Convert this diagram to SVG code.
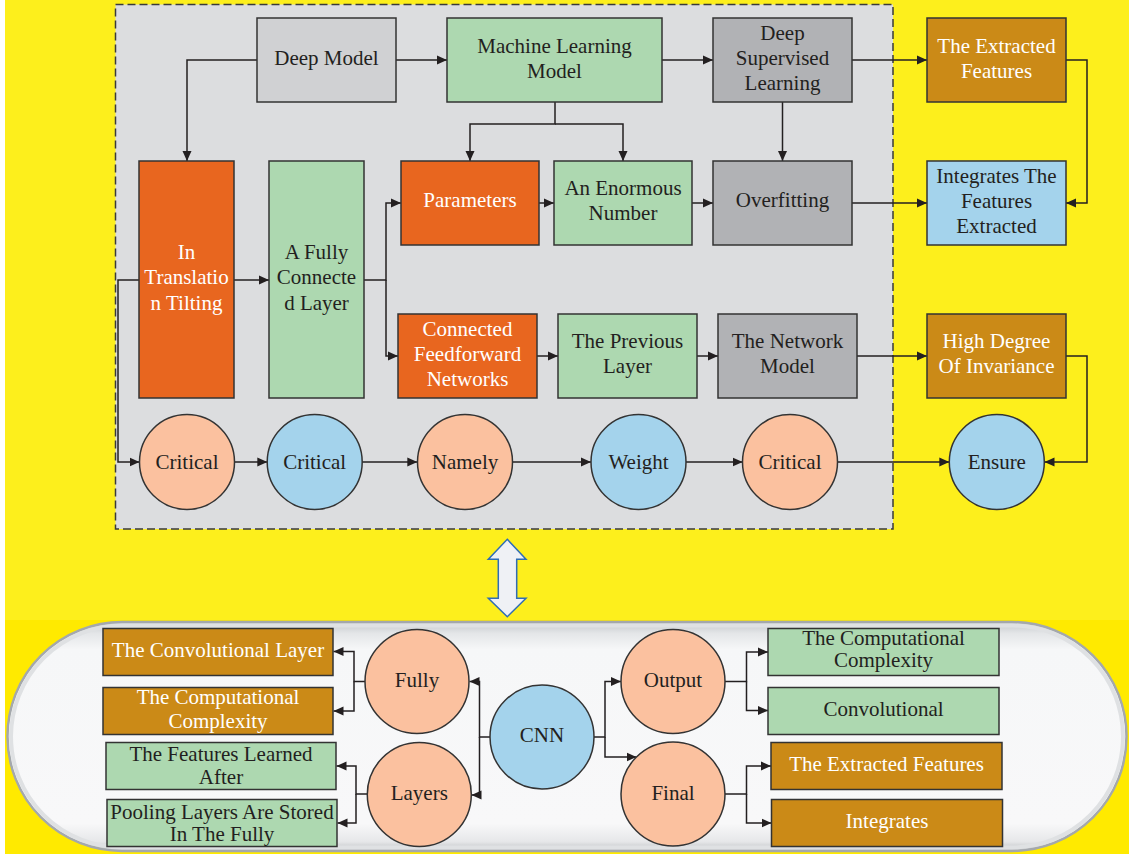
<svg xmlns="http://www.w3.org/2000/svg" width="1136" height="854" viewBox="0 0 1136 854">
<defs>
<style>
text{font-family:'Liberation Serif','Times New Roman',Times,serif;font-size:21px;text-anchor:middle;fill:#231f20}
text.w{fill:#ffffff}
.box{stroke:#333333;stroke-width:1.5}
.lg{fill:#d0d1d3}.dg{fill:#b1b2b5}.gr{fill:#add8b0}.or{fill:#e8661f}.br{fill:#cb8a17}.bl{fill:#a4d3ec}.sa{fill:#fbc19f}
.c{fill:none;stroke:#231f20;stroke-width:1.5;marker-end:url(#ah)}
</style>
<marker id="ah" markerUnits="userSpaceOnUse" markerWidth="11" markerHeight="10" refX="10" refY="5" orient="auto">
<path d="M0,0.5 L10,5 L0,9.5 z" fill="#231f20"/>
</marker>
<linearGradient id="pg" x1="0" y1="0" x2="0" y2="1">
<stop offset="0" stop-color="#c4c7ca"/>
<stop offset="0.05" stop-color="#e4e6e8"/>
<stop offset="0.12" stop-color="#f6f7f8"/>
<stop offset="0.88" stop-color="#f8f8f9"/>
<stop offset="0.96" stop-color="#e6e7e9"/>
<stop offset="1" stop-color="#b8bbbe"/>
</linearGradient>
</defs>
<rect x="0" y="0" width="1136" height="854" fill="#ffffff"/>
<rect x="5" y="0" width="1124" height="854" fill="#fdef1c"/>
<rect x="5" y="620" width="1124" height="234" fill="#ffea00"/>
<rect x="115.5" y="4.5" width="777.5" height="524.5" fill="#dcdddf" stroke="#3a3a3a" stroke-width="1.5" stroke-dasharray="8,4"/>
<g id="pill">
<rect x="7.5" y="622" width="1119" height="229" rx="114.5" ry="114.5" fill="url(#pg)" stroke="#a4a8ac" stroke-width="2.5"/>
<rect x="11" y="625.5" width="1112" height="222" rx="111" ry="111" fill="none" stroke="#dfe1e3" stroke-width="4"/>
</g>
<polygon id="dblarrow" points="507.3,539.3 526,559.3 516.7,559.3 516.7,598.3 526,598.3 507.3,616.7 488.3,598.3 498.3,598.3 498.3,559.3 488.3,559.3" fill="#eff1f5" stroke="#2f6db5" stroke-width="1.5"/>

<g id="connectors">
<path class="c" d="M257,60 H187 V161"/>
<path class="c" d="M396,60 H447"/>
<path class="c" d="M662,60 H713"/>
<path class="c" d="M852,60 H927"/>
<path class="c" d="M555,102 V124 H470 V161"/>
<path class="c" d="M555,124 H623 V161"/>
<path class="c" d="M782.5,102 V161"/>
<path class="c" d="M539,203 H554"/>
<path class="c" d="M692,203 H713"/>
<path class="c" d="M852,203 H927"/>
<path class="c" d="M1066,60 H1087 V203 H1066"/>
<path class="c" d="M139,280 H118 V462 H139.5"/>
<path class="c" d="M234,280 H269"/>
<path class="c" d="M364,280 H386 V203 H401"/>
<path class="c" d="M386,280 V356 H398"/>
<path class="c" d="M537,356 H558"/>
<path class="c" d="M697,356 H718"/>
<path class="c" d="M857,356 H927"/>
<path class="c" d="M1066,356 H1087 V462 H1044.5"/>
<path class="c" d="M234.5,462 H267.3"/>
<path class="c" d="M362,462 H417.3"/>
<path class="c" d="M512.7,462 H591"/>
<path class="c" d="M686,462 H742.7"/>
<path class="c" d="M837.7,462 H949.3"/>
<path class="c" d="M365,681.5 H354 V651.5 H333.5"/>
<path class="c" d="M354,681.5 V711 H333.5"/>
<path class="c" d="M367,794 H356 V766 H336.5"/>
<path class="c" d="M356,794 V823 H337.5"/>
<path class="c" d="M490,737 H479.5 V681.5 H469.5"/>
<path class="c" d="M479.5,737 V795 H471.5"/>
<path class="c" d="M594,737 H605 V681.5 H621"/>
<path class="c" d="M605,737 V757 H636.5"/>
<path class="c" d="M725,681.5 H746.5 V652 H768"/>
<path class="c" d="M746.5,681.5 V710.5 H768"/>
<path class="c" d="M725,794 H746.5 V766 H771"/>
<path class="c" d="M746.5,794 V823 H771.5"/>
</g>

<g id="n-deepmodel"><rect class="box lg" x="257" y="18" width="139" height="84"/><text x="326.5" y="65">Deep Model</text></g>
<g id="n-mlm"><rect class="box gr" x="447" y="18" width="215" height="84"/><text x="554.5" y="53">Machine Learning</text><text x="554.5" y="78">Model</text></g>
<g id="n-dsl"><rect class="box dg" x="713" y="18" width="139" height="84"/><text x="782.5" y="40">Deep</text><text x="782.5" y="65">Supervised</text><text x="782.5" y="90">Learning</text></g>
<g id="n-extracted"><rect class="box br" x="927" y="18" width="139" height="84"/><text class="w" x="996.5" y="53">The Extracted</text><text class="w" x="996.5" y="78">Features</text></g>

<g id="n-params"><rect class="box or" x="401" y="161" width="138" height="84"/><text class="w" x="470" y="207">Parameters</text></g>
<g id="n-enormous"><rect class="box gr" x="554" y="161" width="138" height="84"/><text x="623" y="195">An Enormous</text><text x="623" y="220">Number</text></g>
<g id="n-overfitting"><rect class="box dg" x="713" y="161" width="139" height="84"/><text x="782.5" y="207">Overfitting</text></g>
<g id="n-integrates"><rect class="box bl" x="927" y="161" width="139" height="84"/><text x="996.5" y="183">Integrates The</text><text x="996.5" y="208">Features</text><text x="996.5" y="233">Extracted</text></g>

<g id="n-translation"><rect class="box or" x="139" y="161" width="95" height="237"/><text class="w" x="186.5" y="259">In</text><text class="w" x="186.5" y="284">Translatio</text><text class="w" x="186.5" y="310">n Tilting</text></g>
<g id="n-fullyconn"><rect class="box gr" x="269" y="161" width="95" height="237"/><text x="316.5" y="259">A Fully</text><text x="316.5" y="284">Connecte</text><text x="316.5" y="310">d Layer</text></g>

<g id="n-cff"><rect class="box or" x="398" y="314" width="139" height="84"/><text class="w" x="467.5" y="336">Connected</text><text class="w" x="467.5" y="361">Feedforward</text><text class="w" x="467.5" y="386">Networks</text></g>
<g id="n-previous"><rect class="box gr" x="558" y="314" width="139" height="84"/><text x="627.5" y="348">The Previous</text><text x="627.5" y="373">Layer</text></g>
<g id="n-network"><rect class="box dg" x="718" y="314" width="139" height="84"/><text x="787.5" y="348">The Network</text><text x="787.5" y="373">Model</text></g>
<g id="n-highdegree"><rect class="box br" x="927" y="314" width="139" height="84"/><text class="w" x="996.5" y="348">High Degree</text><text class="w" x="996.5" y="373">Of Invariance</text></g>

<g id="n-critical1"><circle class="box sa" cx="187" cy="462" r="47.5"/><text x="187" y="469">Critical</text></g>
<g id="n-critical2"><circle class="box bl" cx="314.7" cy="462" r="47.5"/><text x="314.7" y="469">Critical</text></g>
<g id="n-namely"><circle class="box sa" cx="465" cy="462" r="47.5"/><text x="465" y="469">Namely</text></g>
<g id="n-weight"><circle class="box bl" cx="638.5" cy="462" r="47.5"/><text x="638.5" y="469">Weight</text></g>
<g id="n-critical3"><circle class="box sa" cx="790" cy="462" r="47.5"/><text x="790" y="469">Critical</text></g>
<g id="n-ensure"><circle class="box bl" cx="996.8" cy="462" r="47.5"/><text x="996.8" y="469">Ensure</text></g>

<g id="n-convlayer"><rect class="box br" x="103" y="628.5" width="230" height="47"/><text class="w" x="218" y="657">The Convolutional Layer</text></g>
<g id="n-compl-l"><rect class="box br" x="103" y="687.5" width="230" height="47"/><text class="w" x="218" y="703.5">The Computational</text><text class="w" x="218" y="727.5">Complexity</text></g>
<g id="n-learned"><rect class="box gr" x="106" y="742.5" width="230" height="47"/><text x="221" y="761">The Features Learned</text><text x="221" y="784">After</text></g>
<g id="n-pooling"><rect class="box gr" x="107" y="799.5" width="230" height="47"/><text x="222" y="818.5">Pooling Layers Are Stored</text><text x="222" y="841">In The Fully</text></g>

<g id="n-fully"><circle class="box sa" cx="417" cy="681.5" r="52"/><text x="417" y="687">Fully</text></g>
<g id="n-layers"><circle class="box sa" cx="419.3" cy="794.5" r="52"/><text x="419.3" y="799.5">Layers</text></g>
<g id="n-cnn"><circle class="box bl" cx="542" cy="737" r="52"/><text x="542" y="742">CNN</text></g>
<g id="n-output"><circle class="box sa" cx="673" cy="681.5" r="52"/><text x="673" y="687">Output</text></g>
<g id="n-final"><circle class="box sa" cx="673" cy="794" r="52"/><text x="673" y="799.5">Final</text></g>

<g id="n-compl-r"><rect class="box gr" x="768" y="628.5" width="231" height="47"/><text x="883.5" y="645">The Computational</text><text x="883.5" y="667">Complexity</text></g>
<g id="n-convolutional"><rect class="box gr" x="768" y="687.5" width="231" height="47"/><text x="883.5" y="715.5">Convolutional</text></g>
<g id="n-extracted2"><rect class="box br" x="771" y="742.5" width="231" height="47"/><text class="w" x="886.5" y="770.5">The Extracted Features</text></g>
<g id="n-integrates2"><rect class="box br" x="771.5" y="799.5" width="231" height="47"/><text class="w" x="887" y="828">Integrates</text></g>
</svg>
